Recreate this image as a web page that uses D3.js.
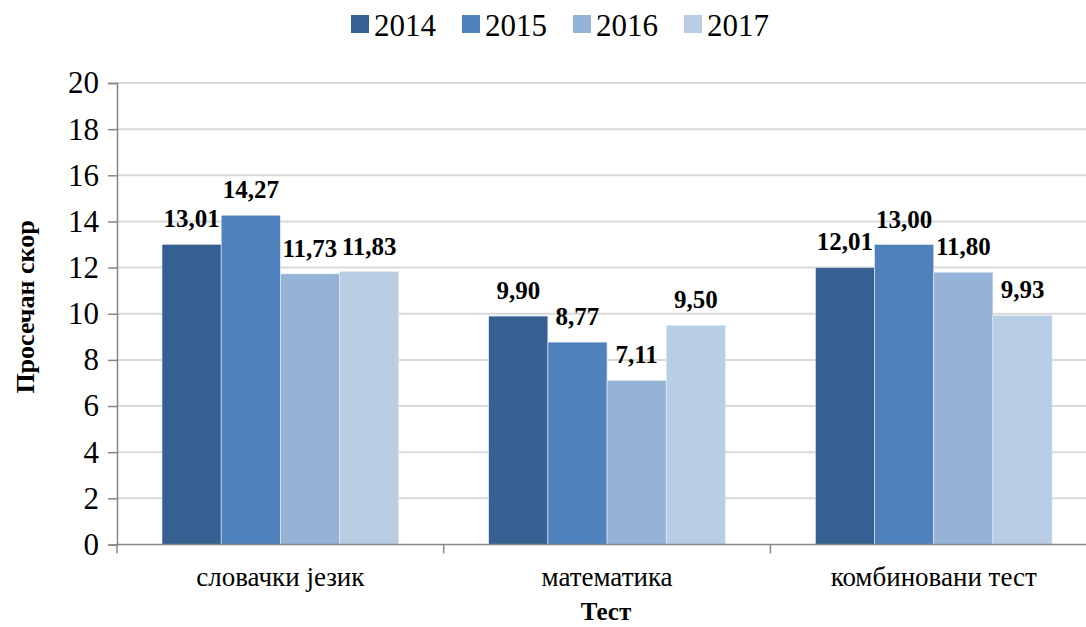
<!DOCTYPE html>
<html><head><meta charset="utf-8">
<script src="https://cdn.jsdelivr.net/npm/d3@7"></script>
<style>body{margin:0;background:#fff}svg{display:block}</style>
</head><body><svg id="c" width="1086" height="627"></svg>
<script>
const categories = ["словачки језик", "математика", "комбиновани тест"];
const years = ["2014", "2015", "2016", "2017"];
const v2014 = [13.01, 9.90, 12.01];
const v2015 = [14.27, 8.77, 13.00];
const v2016 = [11.73, 7.11, 11.80];
const v2017 = [11.83, 9.50, 9.93];
const yTicks = [0, 2, 4, 6, 8, 10, 12, 14, 16, 18, 20];
const colors = ["#376092", "#4f81bd", "#95b3d7", "#b9cde5"];
const series = [v2014, v2015, v2016, v2017];

(function () {
const FF = "'Liberation Serif', 'Times New Roman', serif";
const svg = d3.select("#c");
const mLeft = 117, mTop = 83, mBottom = 544.5, bandW = 326.7;
const x0 = d3.scaleBand().domain(categories).range([mLeft, mLeft + bandW * 3]);
const x1 = d3.scaleBand().domain(years).range([45, bandW - 45]);
const y = d3.scaleLinear().domain([0, 20]).range([mBottom, mTop]);

// gridlines
svg.append("g").selectAll("line").data(yTicks.slice(1)).join("line")
  .attr("x1", mLeft).attr("x2", 1086).attr("y1", d => y(d)).attr("y2", d => y(d))
  .attr("stroke", "#d9d9d9").attr("stroke-width", 2);

// bars
const g = svg.append("g");
categories.forEach((c, ci) => {
  years.forEach((yr, si) => {
    const v = series[si][ci];
    g.append("rect")
      .attr("x", x0(c) + x1(yr)).attr("width", x1.bandwidth())
      .attr("y", y(v)).attr("height", y(0) - y(v))
      .attr("fill", colors[si]).attr("stroke", "#e8eef6").attr("stroke-width", 0.6);
    g.append("text")
      .attr("x", x0(c) + x1(yr) + x1.bandwidth() / 2).attr("y", y(v) - 17)
      .attr("text-anchor", "middle").attr("font-weight", "bold")
      .style("font-size", "25px").style("font-family", FF)
      .text(v.toFixed(2).replace(".", ","));
  });
});

// y axis
const ya = svg.append("g").attr("transform", `translate(${mLeft},0)`)
  .call(d3.axisLeft(y).tickValues(yTicks).tickSize(9).tickPadding(9));
ya.select(".domain").attr("stroke", "#868686").attr("stroke-width", 1.5);
ya.selectAll(".tick line").attr("stroke", "#868686").attr("stroke-width", 1.5);
ya.selectAll("text").attr("fill", "#000").style("font-family", FF).style("font-size", "31px");

// x axis
svg.append("line").attr("x1", mLeft).attr("x2", 1086).attr("y1", mBottom).attr("y2", mBottom)
  .attr("stroke", "#868686").attr("stroke-width", 1.5);
svg.append("g").selectAll("line").data(categories).join("line")
  .attr("x1", d => x0(d)).attr("x2", d => x0(d)).attr("y1", mBottom).attr("y2", mBottom + 9)
  .attr("stroke", "#868686").attr("stroke-width", 1.5);
svg.append("g").selectAll("text").data(categories).join("text")
  .attr("x", d => x0(d) + 45 + (bandW - 90) / 2).attr("y", 586)
  .attr("text-anchor", "middle").style("font-size", "27px").style("font-family", FF).text(d => d);

// axis titles
svg.append("text").attr("x", 606).attr("y", 620).attr("text-anchor", "middle")
  .attr("font-weight", "bold").style("font-size", "25px").style("font-family", FF).text("Тест");
svg.append("text").attr("transform", "translate(34,307) rotate(-90)").attr("text-anchor", "middle")
  .attr("font-weight", "bold").style("font-size", "26px").style("font-family", FF).text("Просечан скор");

// legend
const lg = svg.append("g");
years.forEach((yr, i) => {
  const lx = 351 + i * 111;
  lg.append("rect").attr("x", lx).attr("y", 15).attr("width", 18).attr("height", 18).attr("fill", colors[i]);
  lg.append("text").attr("x", lx + 23).attr("y", 36).style("font-size", "31px").style("font-family", FF).text(yr);
});
})();
</script></body></html>
